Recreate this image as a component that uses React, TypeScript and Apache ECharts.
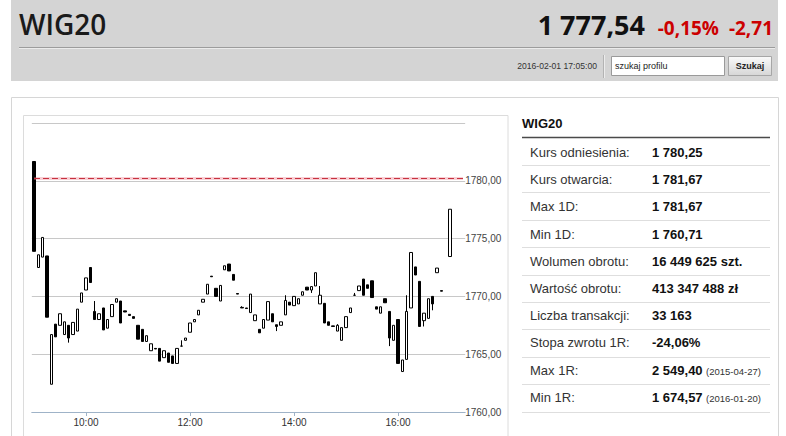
import React, { useEffect, useRef } from "react";
import * as echarts from "echarts";

// ---- chart data ----
const sessionStart = 9 * 60;
const sessionEnd = 17 * 60 + 15;
const timeLabels: string[] = [];
for (let m = sessionStart; m <= sessionEnd; m += 5) {
  timeLabels.push(String(Math.floor(m / 60)).padStart(2, "0") + ":" + String(m % 60).padStart(2, "0"));
}
const shownTimes = ["10:00", "12:00", "14:00", "16:00"];

const openPrices = [
  1781.67, 1772.5, 1773.4, 1773.5, 1762.4, 1767.6, 1767.5, 1766.7, 1767.5, 1766.7,
  1767.0, 1769.5, 1770.55, 1772.5, 1768.7, 1768.0, 1769.0, 1767.25, 1768.25, 1769.5,
  1769.6, 1768.75, 1768.45, 1768.25, 1767.5, 1767.15, 1766.1, 1765.3, 1765.5, 1765.5,
  1764.7, 1765.1, 1764.85, 1764.2, 1765.7, 1766.2, 1766.9, 1767.8, 1768.4, 1769.5,
  1770.2, 1771.75, 1770.7, 1769.6, 1772.3, 1772.8, 1771.9, 1770.25, 1769.05, 1769.0,
  1768.6, 1767.9, 1767.15, 1767.25, 1767.95, 1768.5, 1767.55, 1767.5, 1768.4, 1769.5,
  1769.2, 1769.35, 1770.1, 1770.8, 1770.55, 1770.9, 1769.35, 1769.4, 1767.8, 1767.45,
  1767.0, 1766.2, 1767.3, 1768.6, 1770.1, 1770.5, 1771.5, 1771.0, 1771.35, 1769.1,
  1768.55, 1769.8, 1768.7, 1766.2, 1768.0, 1763.5, 1764.55, 1769.0, 1772.55, 1771.3,
  1767.9, 1768.1, 1770.0, 1772.05, 1770.5, null, 1773.45,
];
const closePrices = [
  1773.9, 1773.6, 1775.1, 1768.2, 1766.7, 1766.5, 1768.5, 1767.8, 1766.4, 1767.75,
  1768.9, 1770.3, 1771.6, 1771.2, 1768.0, 1768.5, 1767.1, 1768.0, 1769.3, 1769.8,
  1767.7, 1768.65, 1768.35, 1768.1, 1766.3, 1766.1, 1766.6, 1765.9, 1765.45, 1764.4,
  1765.3, 1764.3, 1764.2, 1765.5, 1765.7, 1766.4, 1767.7, 1768.0, 1768.8, 1769.75,
  1771.05, 1771.7, 1770.0, 1770.95, 1772.65, 1772.2, 1771.4, 1770.2, 1769.0, 1768.95,
  1770.2, 1768.4, 1766.85, 1768.0, 1769.55, 1767.8, 1767.4, 1767.8, 1769.65, 1769.25,
  1770.0, 1769.8, 1770.4, 1770.55, 1770.85, 1772.05, 1770.1, 1767.7, 1767.5, 1767.4,
  1767.5, 1767.3, 1768.25, 1769.0, 1770.1, 1770.9, 1770.1, 1770.7, 1769.9, 1768.9,
  1769.1, 1769.45, 1766.4, 1767.5, 1764.2, 1764.5, 1768.7, 1773.8, 1771.85, 1767.4,
  1768.55, 1769.8, 1769.35, 1772.45, 1770.45, null, 1777.54,
];
const lowPrices = [
  1773.9, 1772.5, 1773.4, 1768.2, 1762.4, 1766.5, 1767.5, 1766.7, 1766.0, 1766.7,
  1767.0, 1769.5, 1770.55, 1771.2, 1768.0, 1768.0, 1767.1, 1767.25, 1768.25, 1769.5,
  1767.7, 1768.65, 1768.35, 1768.1, 1766.3, 1766.1, 1766.1, 1765.3, 1765.45, 1764.4,
  1764.7, 1764.3, 1764.2, 1764.2, 1765.7, 1766.2, 1766.9, 1767.8, 1768.4, 1769.5,
  1770.2, 1771.7, 1770.0, 1769.6, 1772.3, 1772.2, 1771.4, 1770.2, 1769.0, 1768.95,
  1768.6, 1767.9, 1766.85, 1767.25, 1767.95, 1767.8, 1767.0, 1767.5, 1768.4, 1769.25,
  1769.2, 1769.35, 1770.1, 1770.55, 1770.3, 1770.9, 1769.35, 1767.7, 1767.5, 1767.4,
  1767.0, 1766.2, 1767.3, 1768.6, 1770.1, 1770.5, 1770.1, 1770.7, 1769.9, 1768.9,
  1768.55, 1769.45, 1765.7, 1766.2, 1764.2, 1763.5, 1764.55, 1769.0, 1771.85, 1767.4,
  1767.4, 1768.1, 1768.8, 1772.05, 1770.45, null, 1773.45,
];
const highPrices = [
  1781.67, 1773.6, 1775.1, 1773.5, 1766.7, 1767.6, 1768.5, 1767.8, 1767.5, 1767.75,
  1768.9, 1770.3, 1771.6, 1772.5, 1769.6, 1768.5, 1769.0, 1768.0, 1769.3, 1769.8,
  1769.6, 1768.75, 1768.45, 1768.25, 1767.5, 1767.15, 1766.6, 1765.9, 1765.5, 1765.5,
  1765.3, 1765.1, 1764.85, 1765.5, 1766.2, 1766.4, 1767.7, 1768.0, 1768.8, 1769.75,
  1771.05, 1771.75, 1770.7, 1770.95, 1772.65, 1772.8, 1771.9, 1770.25, 1769.15, 1769.0,
  1770.2, 1768.4, 1767.15, 1768.0, 1769.55, 1768.5, 1767.55, 1767.8, 1770.1, 1769.5,
  1770.0, 1769.8, 1770.4, 1770.8, 1770.85, 1772.05, 1770.9, 1769.4, 1767.8, 1767.45,
  1767.6, 1767.3, 1768.25, 1769.0, 1770.3, 1770.9, 1771.5, 1771.0, 1771.35, 1769.1,
  1769.1, 1769.8, 1768.7, 1767.5, 1768.0, 1764.5, 1770.1, 1773.8, 1772.55, 1771.3,
  1768.55, 1769.8, 1770.0, 1772.45, 1770.5, null, 1777.54,
];
const referencePrice = 1780.25;
const yMin = 1760;
const yMax = 1785;
const yStep = 5;

// ---- header / table texts ----
const indexName = "WIG20";
const lastValue = "1 777,54";
const changePct = "-0,15%";
const changeAbs = "-2,71";
const timestamp = "2016-02-01 17:05:00";
const searchPlaceholder = "szukaj profilu";
const searchButton = "Szukaj";
const statLabels = [
  "Kurs odniesienia:", "Kurs otwarcia:", "Max 1D:", "Min 1D:", "Wolumen obrotu:",
  "Wartość obrotu:", "Liczba transakcji:", "Stopa zwrotu 1R:", "Max 1R:", "Min 1R:",
];
const statValues = [
  "1 780,25", "1 781,67", "1 781,67", "1 760,71", "16 449 625 szt.",
  "413 347 488 zł", "33 163", "-24,06%", "2 549,40", "1 674,57",
];
const statNotes = ["", "", "", "", "", "", "", "", "(2015-04-27)", "(2016-01-20)"];

const FONT = '"Liberation Sans", Arial, sans-serif';
const HEAD_FONT = '"Open Sans", "Liberation Sans", sans-serif';

function buildGraphic(): any[] {
  const els: any[] = [];
  // header
  els.push({ type: "rect", z: 0, shape: { x: 11, y: 0, width: 767, height: 81 }, style: { fill: "#d4d4d4" } });
  els.push({ type: "line", z: 1, shape: { x1: 19, y1: 47.5, x2: 775, y2: 47.5 }, style: { stroke: "#9c9c9c", lineWidth: 1 } });
  els.push({ type: "line", z: 1, shape: { x1: 19, y1: 48.5, x2: 775, y2: 48.5 }, style: { stroke: "#ebebeb", lineWidth: 1 } });
  els.push({ type: "text", z: 2, x: 19, y: 24, style: { text: indexName, fill: "#1a1a1a", fontSize: 28, fontWeight: 600, fontFamily: HEAD_FONT, align: "left", verticalAlign: "middle" } });
  els.push({ type: "text", z: 2, x: 645, y: 24, style: { text: lastValue, fill: "#111", fontSize: 27, fontWeight: "bold", fontFamily: HEAD_FONT, align: "right", verticalAlign: "middle" } });
  els.push({ type: "text", z: 2, x: 719, y: 27.5, style: { text: changePct, fill: "#cc0000", fontSize: 19, fontWeight: "bold", fontFamily: HEAD_FONT, align: "right", verticalAlign: "middle" } });
  els.push({ type: "text", z: 2, x: 773, y: 27.5, style: { text: changeAbs, fill: "#cc0000", fontSize: 19, fontWeight: "bold", fontFamily: HEAD_FONT, align: "right", verticalAlign: "middle" } });
  els.push({ type: "text", z: 2, x: 597, y: 66, style: { text: timestamp, fill: "#333", fontSize: 8.6, fontFamily: FONT, align: "right", verticalAlign: "middle" } });
  els.push({ type: "line", z: 1, shape: { x1: 603.5, y1: 55, x2: 603.5, y2: 78 }, style: { stroke: "#b3b3b3", lineWidth: 1 } });
  els.push({ type: "line", z: 1, shape: { x1: 604.5, y1: 55, x2: 604.5, y2: 78 }, style: { stroke: "#ececec", lineWidth: 1 } });
  els.push({ type: "rect", z: 1, shape: { x: 611.5, y: 56.5, width: 113, height: 19 }, style: { fill: "#fff", stroke: "#9a9a9a", lineWidth: 1 } });
  els.push({ type: "text", z: 2, x: 615, y: 66, style: { text: searchPlaceholder, fill: "#222", fontSize: 9, fontFamily: FONT, align: "left", verticalAlign: "middle" } });
  els.push({
    type: "rect", z: 1, shape: { x: 728.5, y: 56.5, width: 43, height: 19 },
    style: {
      fill: new echarts.graphic.LinearGradient(0, 0, 0, 1, [
        { offset: 0, color: "#fafafa" },
        { offset: 1, color: "#d6d6d6" },
      ]),
      stroke: "#a6a6a6", lineWidth: 1,
    },
  });
  els.push({ type: "text", z: 2, x: 750, y: 66, style: { text: searchButton, fill: "#222", fontSize: 9, fontWeight: "bold", fontFamily: FONT, align: "center", verticalAlign: "middle" } });

  // panel frames
  els.push({ type: "rect", z: 0, shape: { x: 11.5, y: 97.5, width: 767, height: 360 }, style: { fill: "none", stroke: "#d6d6d6", lineWidth: 1 } });
  els.push({ type: "rect", z: 0, shape: { x: 23.5, y: 115.5, width: 484.5, height: 340 }, style: { fill: "none", stroke: "#dcdcdc", lineWidth: 1 } });

  // stats table
  els.push({ type: "text", z: 2, x: 522, y: 123.5, style: { text: indexName, fill: "#111", fontSize: 13, fontWeight: "bold", fontFamily: FONT, align: "left", verticalAlign: "middle" } });
  els.push({ type: "line", z: 1, shape: { x1: 522, y1: 137.5, x2: 770, y2: 137.5 }, style: { stroke: "#4a4a4a", lineWidth: 1.5 } });
  const rowStep = 27.2;
  statLabels.forEach((lab, k) => {
    const ty = 152.5 + rowStep * k;
    els.push({ type: "text", z: 2, x: 530, y: ty, style: { text: lab, fill: "#333", fontSize: 13, fontFamily: FONT, align: "left", verticalAlign: "middle" } });
    els.push({ type: "text", z: 2, x: 652, y: ty, style: { text: statValues[k], fill: "#111", fontSize: 13, fontWeight: "bold", fontFamily: FONT, align: "left", verticalAlign: "middle" } });
    if (statNotes[k]) {
      els.push({ type: "text", z: 2, x: 706, y: ty + 1, style: { text: statNotes[k], fill: "#333", fontSize: 9.5, fontFamily: FONT, align: "left", verticalAlign: "middle" } });
    }
    const sy = Math.round(165 + 27.4 * k) + 0.5;
    els.push({ type: "line", z: 1, shape: { x1: 522, y1: sy, x2: 770, y2: sy }, style: { stroke: "#dedede", lineWidth: 1 } });
  });
  return els;
}

export default function App() {
  const ref = useRef<HTMLDivElement>(null);
  useEffect(() => {
    if (!ref.current) return;
    const chart = echarts.init(ref.current, null, { renderer: "svg" });
    const candleData = timeLabels.map((t, i) =>
      openPrices[i] != null && i < openPrices.length
        ? [openPrices[i], closePrices[i], lowPrices[i], highPrices[i]]
        : "-"
    );
    const showTime = (_i: number, v: string) => shownTimes.indexOf(v) >= 0;
    chart.setOption({
      animation: false,
      backgroundColor: "#fff",
      textStyle: { fontFamily: FONT },
      grid: { left: 31.83, top: 123, width: 433.33, height: 289, containLabel: false },
      xAxis: {
        type: "category",
        data: timeLabels,
        boundaryGap: true,
        axisLine: { show: true, lineStyle: { color: "#9fb3c8", width: 1 } },
        axisTick: { show: true, alignWithLabel: true, interval: showTime, length: 4, lineStyle: { color: "#9fb3c8" } },
        axisLabel: { interval: showTime, color: "#333", fontSize: 10, margin: 5, fontFamily: FONT },
        splitLine: { show: false },
      },
      yAxis: {
        type: "value",
        position: "right",
        min: yMin,
        max: yMax,
        interval: yStep,
        scale: true,
        axisLine: { show: false },
        axisTick: { show: false },
        splitLine: { show: true, lineStyle: { color: "#c8c8c8", width: 1 } },
        axisLabel: {
          margin: 0,
          color: "#444",
          fontSize: 10,
          fontFamily: FONT,
          verticalAlign: "middle",
          padding: [0, 0, 7, 0],
          formatter: (v: number) => (v >= yMax ? "" : v.toFixed(2).replace(".", ",")),
        },
      },
      graphic: { elements: buildGraphic() },
      series: [
        {
          type: "candlestick",
          data: candleData,
          barWidth: 3,
          itemStyle: {
            color: "#ffffff",
            color0: "#000000",
            borderColor: "#000000",
            borderColor0: "#000000",
            borderColorDoji: "#000000",
            borderWidth: 1,
          },
          markLine: {
            silent: true,
            symbol: ["none", "none"],
            label: { show: false },
            emphasis: { disabled: true },
            data: [
              [
                { coord: ["09:00", referencePrice], lineStyle: { color: "rgba(235,120,135,0.35)", width: 3, type: "solid" } },
                { coord: ["17:15", referencePrice] },
              ],
              [
                { coord: ["09:00", referencePrice], lineStyle: { color: "#c7313f", width: 1, type: [6, 3] } },
                { coord: ["17:15", referencePrice] },
              ],
            ],
          },
        },
      ],
    });
    return () => chart.dispose();
  }, []);
  return <div ref={ref} style={{ position: "absolute", left: 0, top: 0, width: 786, height: 436 }} />;
}
